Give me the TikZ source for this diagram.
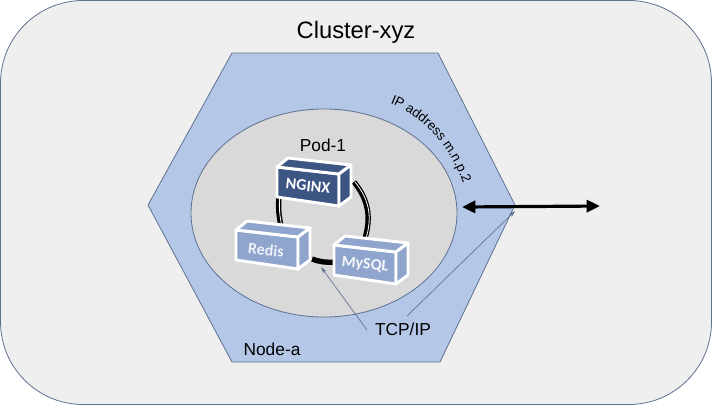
\documentclass[tikz,border=0pt]{standalone}
\usepackage{fontspec}
\setmainfont{Liberation Sans}
\newfontfamily\boxfont{Carlito}
\usetikzlibrary{arrows.meta, decorations.text}

\definecolor{clusterfill}{HTML}{EFEFEF}
\definecolor{nodefill}{HTML}{B4C7E7}
\definecolor{podfill}{HTML}{D9D9D9}
\definecolor{edgeblue}{HTML}{5F7190}
\definecolor{darkbox}{HTML}{3C5583}
\definecolor{lightbox}{HTML}{8FA5CD}

\tikzset{
    boxface/.style={draw=white, line width=2.2pt, line join=round},
    boxlabel/.style={text=white, font=\boxfont\bfseries\fontsize{12}{14}\selectfont, rotate=-6},
    ringline/.style={draw=black, line width=4pt},
    ringgap/.style={draw=white, line width=0.6pt},
    callout/.style={draw=edgeblue, line width=0.5pt, -{Stealth[length=5pt, width=3pt]}},
    pics/appbox/.style={code={
        \fill[#1, boxface] (0,0) -- (62,7) -- (62,39) -- (0,30) -- cycle;
        \fill[#1, boxface] (0,0) -- (11,-9) -- (74,-2) -- (62,7) -- cycle;
        \fill[#1, boxface] (62,7) -- (74,-2) -- (74,30) -- (62,39) -- cycle;
    }}
}

\begin{document}
\begin{tikzpicture}[x=0.75pt, y=-0.75pt, >=Stealth]
    \useasboundingbox (0,0) rectangle (712,405);

    % Cluster, node and pod
    \draw[fill=clusterfill, draw=edgeblue, line width=0.6pt, rounded corners=62pt] (0.5,0.5) rectangle (711.5,404.5);
    \draw[fill=nodefill, draw=edgeblue, line width=0.6pt] (232,53) -- (438,53) -- (515,205) -- (440,362) -- (232,362) -- (148,205) -- cycle;
    \draw[fill=podfill, draw=edgeblue, line width=0.6pt] (324,213) ellipse [x radius=133, y radius=104];

    % Titles
    \node (cluster) at (356,32) {\fontsize{17.8}{20}\selectfont Cluster-xyz};
    \node (pod) at (323,145) {\fontsize{13}{15}\selectfont Pod-1};
    \node (nodea) at (272,349) {\fontsize{13}{15}\selectfont Node-a};
    \node (tcp) at (403,329) {\fontsize{13}{15}\selectfont TCP/IP};

    % Curved address
    \path[postaction={decorate, decoration={text along path, text align=center,
        text={|\fontsize{10}{12}\selectfont|IP address m.n.p.2}}}]
        (382,100) .. controls (425,114) and (453,150) .. (466,192);

    % Links between the boxes
    \coordinate (ringA) at (279,195);
    \coordinate (ringB) at (281,226);
    \coordinate (ringC) at (354,182);
    \coordinate (ringD) at (365,238);
    \coordinate (ringE) at (312,259);
    \coordinate (ringF) at (335,262);
    \draw[ringline] (ringA) to[bend right=8] (ringB);
    \draw[ringline] (ringC) to[bend left=28] (ringD);
    \draw[ringline] (ringE) to[bend right=12] (ringF);
    \draw[ringgap, transform canvas={xshift=0.6pt}] (ringA) to[bend right=8] (ringB);
    \draw[ringgap, transform canvas={xshift=0.8pt}] (ringC) to[bend left=28] (ringD);

    % Boxes
    \pic at (277,167) {appbox=darkbox};
    \pic at (236,230) {appbox=lightbox};
    \pic at (334,245) {appbox=lightbox};
    \node[boxlabel] (nginx) at (308,186) {NGINX};
    \node[boxlabel, text=white!85!lightbox] (redis) at (266,250) {Redis};
    \node[boxlabel, text=white!90!lightbox] (mysql) at (365,265) {MySQL};

    % Double arrow
    \coordinate (inner) at (462,207);
    \coordinate (outer) at (600,206);
    \draw[<->, line width=2.4pt, >={Stealth[length=10pt, width=9pt, inset=0pt]}] (inner) -- (outer);

    % Callouts from TCP/IP
    \coordinate (ringhit) at (321,267);
    \coordinate (porthit) at (515,211);
    \coordinate (tcpleft) at (367,330);
    \coordinate (tcptop) at (407,316);
    \draw[callout] (tcpleft) -- (ringhit);
    \draw[callout] (tcptop) -- (porthit);
\end{tikzpicture}
\end{document}
